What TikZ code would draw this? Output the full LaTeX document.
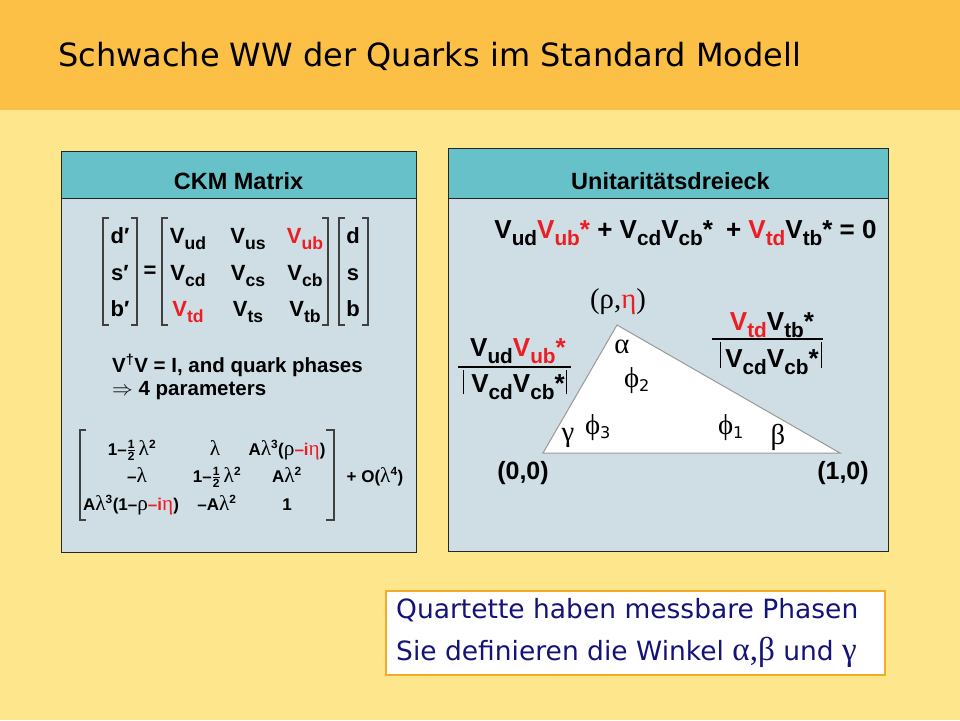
\documentclass[tikz,border=0pt]{standalone}
\usepackage{graphicx}
\usepackage{fontspec}
\setmainfont{Liberation Sans}
\newfontfamily\verd{DejaVu Sans}
\newfontfamily\grk[Scale=1.25]{Liberation Serif}

\definecolor{bandorange}{RGB}{253,192,70}
\definecolor{slideyellow}{RGB}{253,230,140}
\definecolor{headteal}{RGB}{102,194,200}
\definecolor{panelgrey}{RGB}{206,222,228}
\definecolor{ckmred}{RGB}{235,30,36}
\definecolor{boxnavy}{RGB}{20,20,120}
\definecolor{boxorange}{RGB}{245,170,40}

\newcommand{\sbs}[1]{\raisebox{-0.28em}{\scalebox{0.8}{#1}}}
\newcommand{\Vq}[1]{V\sbs{#1}}
\newcommand{\Vr}[1]{\textcolor{ckmred}{V\sbs{#1}}}
\newcommand{\gk}[1]{{\grk\mdseries #1}}
\newcommand{\half}{\smash{$\frac{\mbox{\fontsize{12}{12}\selectfont 1}}{\mbox{\fontsize{12}{12}\selectfont 2}}$}}

\begin{document}
\begin{tikzpicture}[x=1pt, y=-1pt,
		brak/.style={draw=black!75, line width=1.3pt},
		panel/.style={draw=black!85, line width=1pt},
		head/.style={anchor=base, inner sep=0pt, font=\fontsize{23.5}{28}\selectfont\bfseries},
		ent/.style={anchor=base, inner sep=0pt, font=\fontsize{22}{26}\selectfont\bfseries},
		small/.style={anchor=base, inner sep=0pt, font=\fontsize{17}{20}\selectfont\bfseries},
		big/.style={anchor=base, inner sep=0pt, font=\fontsize{26}{30}\selectfont\bfseries},
		ang/.style={inner sep=0pt, font=\fontsize{23}{28}\selectfont\grk}]

		\useasboundingbox (0,0) rectangle (960,720);
		\fill[slideyellow] (0,0) rectangle (960,720);
		\fill[bandorange] (0,0) rectangle (960,110);
		\node[anchor=base west, inner sep=0pt, font=\fontsize{32}{38}\selectfont\verd] (title) at (58,66) {Schwache WW der Quarks im Standard Modell};

		% CKM Matrix
		\draw[panel, fill=panelgrey] (61,198) rectangle (416,552);
		\draw[panel, fill=headteal] (61,151) rectangle (416,198);
		\node[head] (ckmhead) at (238.5,189) {CKM Matrix};

		\draw[brak] (109,218) -- (103,218) -- (103,325) -- (109,325);
		\draw[brak] (131,218) -- (137,218) -- (137,325) -- (131,325);
		\draw[brak] (168,218) -- (162,218) -- (162,325) -- (168,325);
		\draw[brak] (322,218) -- (328,218) -- (328,325) -- (322,325);
		\draw[brak] (345,218) -- (339,218) -- (339,325) -- (345,325);
		\draw[brak] (362,218) -- (368,218) -- (368,325) -- (362,325);

		\node[ent] (dp) at (120,243) {d′};
		\node[ent] (sp) at (120,280) {s′};
		\node[ent] (bp) at (120,316) {b′};
		\node[ent, anchor=center] (eq) at (150,272) {=};
		\node[ent] (vud) at (188,243) {\Vq{ud}};
		\node[ent] (vus) at (248,243) {\Vq{us}};
		\node[ent] (vub) at (305,243) {\Vr{ub}};
		\node[ent] (vcd) at (188,280) {\Vq{cd}};
		\node[ent] (vcs) at (248,280) {\Vq{cs}};
		\node[ent] (vcb) at (305,280) {\Vq{cb}};
		\node[ent] (vtd) at (188,316) {\Vr{td}};
		\node[ent] (vts) at (248,316) {\Vq{ts}};
		\node[ent] (vtb) at (305,316) {\Vq{tb}};
		\node[ent] (qd) at (353,243) {d};
		\node[ent] (qs) at (353,280) {s};
		\node[ent] (qb) at (353,316) {b};

		\node[ent, anchor=base west, font=\fontsize{20.5}{24}\selectfont\bfseries] (unit) at (112,372) {V\textsuperscript{†}V = I, and quark phases};
		\node[ent, anchor=base west, font=\fontsize{20.5}{24}\selectfont\bfseries] (npar) at (112,395) {$\Rightarrow$ 4 parameters};

		% Wolfenstein
		\draw[brak] (86,430) -- (80,430) -- (80,520) -- (86,520);
		\draw[brak] (326,430) -- (334,430) -- (334,520) -- (326,520);
		\node[small] (w11) at (132,455) {1–\half\,\gk{λ}\textsuperscript{2}};
		\node[small] (w12) at (215,455) {\gk{λ}};
		\node[small] (w13) at (287,455) {A\gk{λ}\textsuperscript{3}(\gk{ρ}\textcolor{ckmred}{–i\gk{η}})};
		\node[small] (w21) at (137,482) {–\gk{λ}};
		\node[small] (w22) at (217,482) {1–\half\,\gk{λ}\textsuperscript{2}};
		\node[small] (w23) at (287,482) {A\gk{λ}\textsuperscript{2}};
		\node[small] (w31) at (131,510) {A\gk{λ}\textsuperscript{3}(1–\gk{ρ}\textcolor{ckmred}{–i\gk{η}})};
		\node[small] (w32) at (217,510) {–A\gk{λ}\textsuperscript{2}};
		\node[small] (w33) at (287,510) {1};
		\node[small] (order) at (375,482) {+ O(\gk{λ}\textsuperscript{4})};

		% Unitaritaetsdreieck
		\draw[panel, fill=panelgrey] (448,198) rectangle (888,551);
		\draw[panel, fill=headteal] (448,148) rectangle (888,198);
		\node[head] (unihead) at (670.5,189) {Unitaritätsdreieck};
		\node[big] (unirel) at (685.5,238) {\Vq{ud}\Vr{ub}\textcolor{ckmred}{*} + \Vq{cd}\Vq{cb}*\enspace+ \Vr{td}\Vq{tb}* = 0};

		\coordinate (orig) at (543,453);
		\coordinate (one) at (840,453);
		\coordinate (apex) at (617,325);
		\draw[draw=black!40, fill=white, line width=1pt] (orig) -- (one) -- (apex) -- cycle;

		\node[ang] (rhoeta) at (618,302) {(ρ,\textcolor{ckmred}{η})};
		\node[ang] (alpha) at (622,347) {α};
		\node[ang] (phitwo) at (637,381) {ϕ{\verd\textsubscript{2}}};
		\node[ang] (gamma) at (568,438) {γ};
		\node[ang] (phithree) at (598,428) {ϕ{\verd\textsubscript{3}}};
		\node[ang] (phione) at (731,428) {ϕ{\verd\textsubscript{1}}};
		\node[ang] (beta) at (778,437) {β};
		\node[big, anchor=center, font=\fontsize{25}{30}\selectfont\bfseries] (p00) at (523,473) {(0,0)};
		\node[big, anchor=center, font=\fontsize{25}{30}\selectfont\bfseries] (p10) at (843,473) {(1,0)};

		\node[big] (numl) at (518,356) {\Vq{ud}\Vr{ub}\textcolor{ckmred}{*}};
		\node[big] (denl) at (518,392) {\Vq{cd}\Vq{cb}*};
		\draw[line width=1.3pt] (458,367) -- (571,367);
		\draw[line width=0.8pt] (463,370) -- (463,394);
		\draw[line width=0.8pt] (566,370) -- (566,394);

		\node[big] (numr) at (772,330) {\Vr{td}\Vq{tb}*};
		\node[big] (denr) at (772,367) {\Vq{cd}\Vq{cb}*};
		\draw[line width=1.3pt] (712,339) -- (823,339);
		\draw[line width=0.8pt] (720,342) -- (720,368);
		\draw[line width=0.8pt] (821,342) -- (821,368);

		% Phasen
		\draw[draw=boxorange, fill=white, line width=2pt] (386,591) rectangle (885,675);
		\node[anchor=base west, inner sep=0pt, text=boxnavy, font=\fontsize{26.5}{30}\selectfont\verd] (phasen) at (396,618) {Quartette haben messbare Phasen};
		\node[anchor=base west, inner sep=0pt, text=boxnavy, font=\fontsize{26.5}{30}\selectfont\verd] (winkel) at (396,660) {Sie definieren die Winkel \gk{α,β} und \gk{γ}};

	\end{tikzpicture}
\end{document}
